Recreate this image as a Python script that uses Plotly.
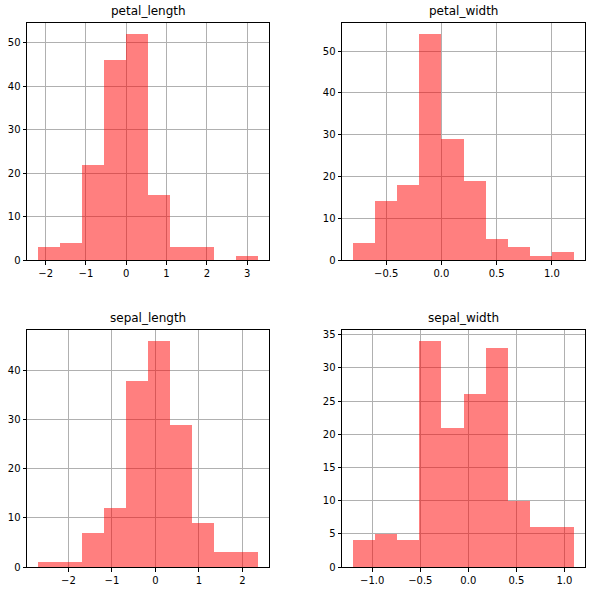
import numpy as np
import plotly.graph_objects as go

# ---- data ----
panel_names = ["petal_length", "petal_width", "sepal_length", "sepal_width"]

petal_length_start, petal_length_width = -2.19, 0.546
petal_length_counts = [3, 4, 22, 46, 52, 15, 3, 3, 0, 1]

petal_width_start, petal_width_width = -0.80, 0.20
petal_width_counts = [4, 14, 18, 54, 29, 19, 5, 3, 1, 2]

sepal_length_start, sepal_length_width = -2.70, 0.506
sepal_length_counts = [1, 1, 7, 12, 38, 46, 29, 9, 3, 3]

sepal_width_start, sepal_width_width = -1.20, 0.230
sepal_width_counts = [4, 5, 4, 34, 21, 26, 33, 10, 6, 6]

x_tickvals = {
    "petal_length": [-2, -1, 0, 1, 2, 3],
    "petal_width": [-0.5, 0.0, 0.5, 1.0],
    "sepal_length": [-2, -1, 0, 1, 2],
    "sepal_width": [-1.0, -0.5, 0.0, 0.5, 1.0],
}
y_tickvals = {
    "petal_length": [0, 10, 20, 30, 40, 50],
    "petal_width": [0, 10, 20, 30, 40, 50],
    "sepal_length": [0, 10, 20, 30, 40],
    "sepal_width": [0, 5, 10, 15, 20, 25, 30, 35],
}
x_fmt = {"petal_length": "d", "petal_width": ".1f", "sepal_length": "d", "sepal_width": ".1f"}

panels = {
    "petal_length": (petal_length_start, petal_length_width, petal_length_counts),
    "petal_width": (petal_width_start, petal_width_width, petal_width_counts),
    "sepal_length": (sepal_length_start, sepal_length_width, sepal_length_counts),
    "sepal_width": (sepal_width_start, sepal_width_width, sepal_width_counts),
}

W, H = 592, 591
xdoms = [[27 / W, 269 / W], [342 / W, 585 / W]]
ydoms = [[1 - 260 / H, 1 - 23 / H], [1 - 567 / H, 1 - 330 / H]]

FONT = "DejaVu Sans, Arial, sans-serif"
fig = go.Figure()
annotations = []

for i, name in enumerate(panel_names):
    r, c = divmod(i, 2)
    start, width, counts = panels[name]
    counts = np.array(counts)
    n = len(counts)
    lefts = start + width * np.arange(n)
    centers = lefts + width / 2
    xa = "x" if i == 0 else f"x{i+1}"
    ya = "y" if i == 0 else f"y{i+1}"
    fig.add_trace(go.Bar(
        x=centers, y=counts, width=width,
        marker=dict(color="rgba(255,0,0,0.5)", line=dict(width=0)),
        xaxis=xa, yaxis=ya, showlegend=False, hoverinfo="x+y",
    ))
    lo, hi = start, start + width * n
    pad = 0.05 * (hi - lo)
    ymax = counts.max() * 1.05
    axstyle = dict(
        showline=True, linecolor="black", linewidth=1, mirror=True,
        showgrid=True, gridcolor="#b0b0b0", gridwidth=0.8,
        ticks="outside", ticklen=3.5, tickwidth=0.8, tickcolor="black",
        tickfont=dict(family=FONT, size=10, color="black"),
        zeroline=False, automargin=False,
    )
    xkey = "xaxis" if i == 0 else f"xaxis{i+1}"
    ykey = "yaxis" if i == 0 else f"yaxis{i+1}"
    fig.layout[xkey] = dict(
        domain=xdoms[c], anchor=ya, range=[lo - pad, hi + pad],
        tickvals=x_tickvals[name], tickformat=x_fmt[name], **axstyle,
    )
    fig.layout[ykey] = dict(
        domain=ydoms[r], anchor=xa, range=[0, ymax],
        tickvals=y_tickvals[name], **axstyle,
    )
    annotations.append(dict(
        text=name, xref="paper", yref="paper",
        x=(xdoms[c][0] + xdoms[c][1]) / 2, y=ydoms[r][1],
        xanchor="center", yanchor="bottom", yshift=3, showarrow=False,
        font=dict(family=FONT, size=12, color="black"),
    ))

fig.update_layout(
    width=W, height=H, margin=dict(l=0, r=0, t=0, b=0, autoexpand=False),
    paper_bgcolor="white", plot_bgcolor="white",
    bargap=0, annotations=annotations,
    font=dict(family=FONT, size=10, color="black"),
)

fig.write_html(
    "out.html",
    config={"displayModeBar": False},
    post_script="document.documentElement.style.margin='0';document.body.style.margin='0';document.body.style.padding='0';document.body.style.overflow='hidden';",
)
